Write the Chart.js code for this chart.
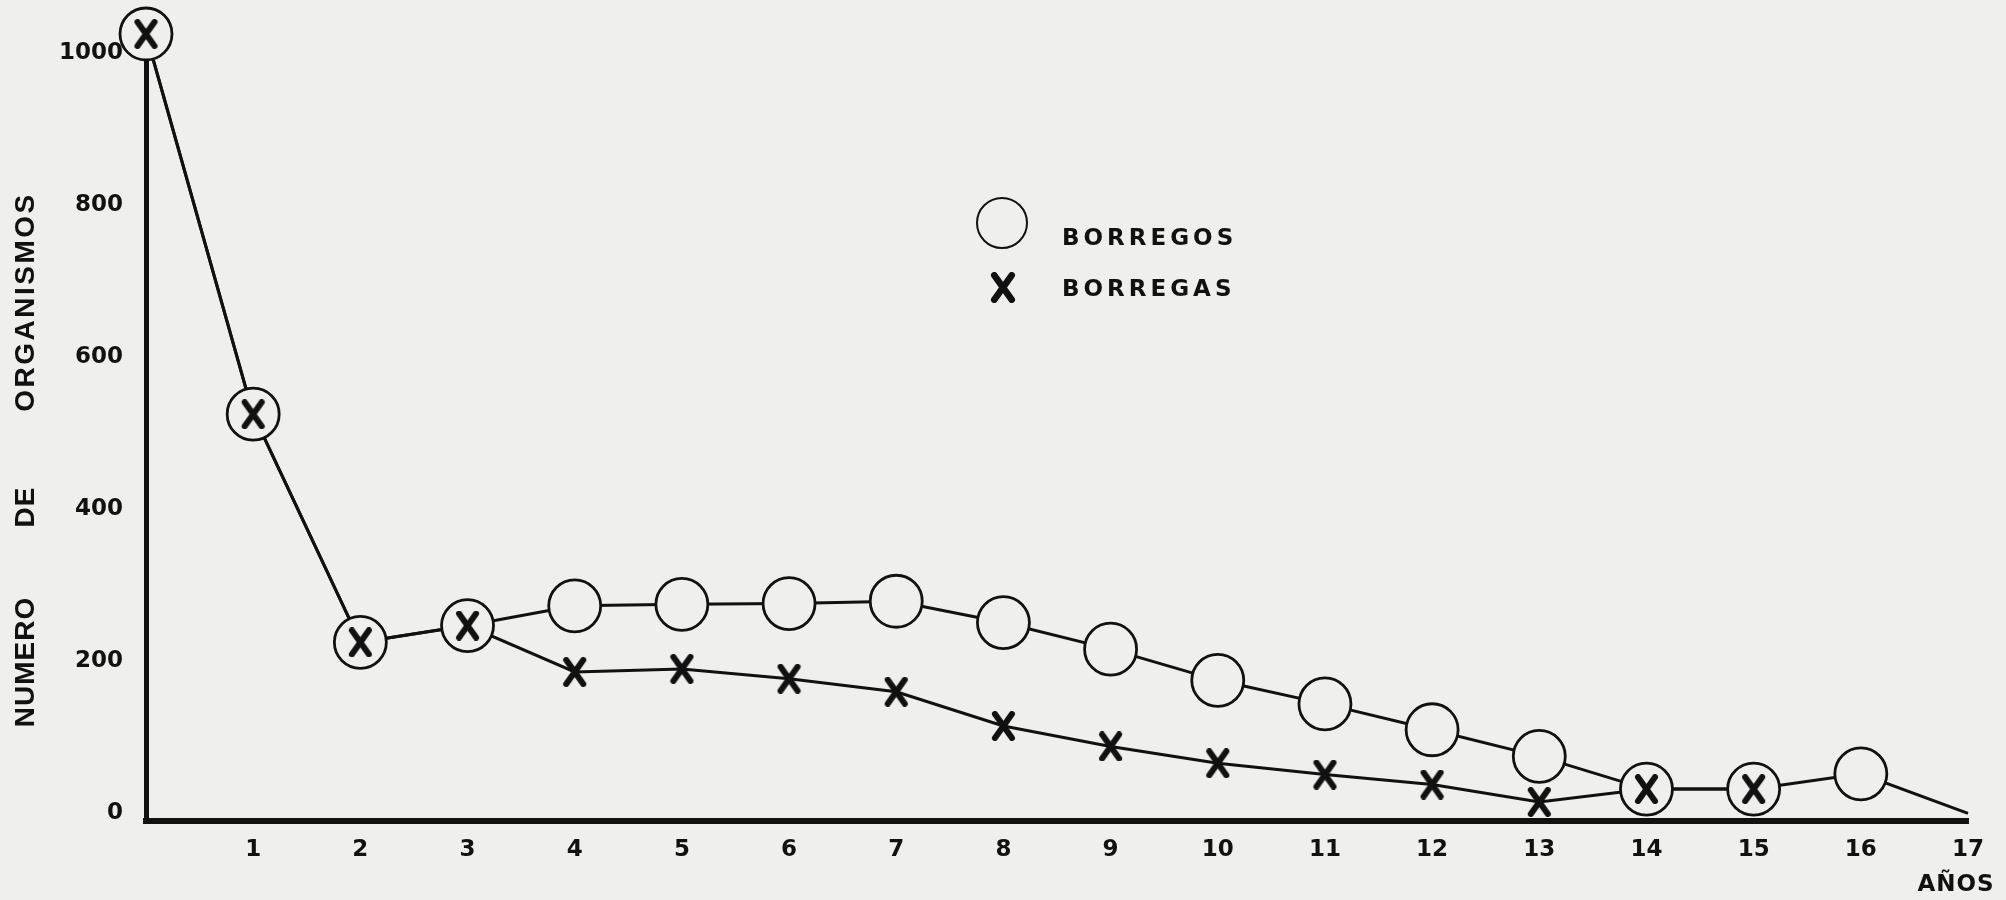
<!DOCTYPE html>
<html>
<head>
<meta charset="utf-8">
<script src="https://cdn.jsdelivr.net/npm/chart.js@4.4.1/dist/chart.umd.min.js"></script>
<style>
  html, body { margin: 0; padding: 0; background: #efefed; }
  #wrap { position: relative; width: 2006px; height: 900px; overflow: hidden; }
  #c { position: absolute; left: 0; top: 0; }
  .lbl { position: absolute; font-family: "DejaVu Sans", sans-serif; font-weight: bold; color: #111; white-space: nowrap; line-height: 1; }
  .ytitle { font-family: "Liberation Sans", Arial, sans-serif; font-size: 28px; transform: translate(-50%, -50%) rotate(-90deg); }
  .legtxt { font-size: 23px; letter-spacing: 4px; transform: translateY(-50%); }
  .legcircle { position: absolute; width: 52px; height: 52px; box-sizing: border-box; border: 2.5px solid #111; border-radius: 50%; }
</style>
</head>
<body>
<div id="wrap">
  <canvas id="c" width="2006" height="900"></canvas>

  <!-- y axis title -->
  <div class="lbl ytitle" style="left:25px; top:662px; letter-spacing:1px">NUMERO</div>
  <div class="lbl ytitle" style="left:25px; top:507px; letter-spacing:1px">DE</div>
  <div class="lbl ytitle" style="left:25px; top:302px; letter-spacing:2.5px">ORGANISMOS</div>

  <!-- x axis title -->
  <div class="lbl" style="left:1956px; top:883px; font-size:23px; letter-spacing:1px; transform:translate(-50%,-50%)">AÑOS</div>

  <!-- legend -->
  <div class="legcircle" style="left:976px; top:197px"></div>
  <div class="lbl legtxt" style="left:1062px; top:237px">BORREGOS</div>
  <div id="legX" style="position:absolute; left:990px; top:272px"></div>
  <div class="lbl legtxt" style="left:1062px; top:288px">BORREGAS</div>
</div>

<script>
// ── DATA ──────────────────────────────────────────────────────────────────────

const years     = [0, 1, 2, 3, 4, 5, 6, 7, 8, 9, 10, 11, 12, 13, 14, 15, 16, 17];
const borregos  = [1025, 525, 225, 247, 273, 275, 276, 279, 251, 216, 175, 144, 110, 75, 32, 32, 52, 0];
const borregas  = [1025, 525, 225, 247, 186, 190, 177, 160, 115, 88, 66, 51, 38, 15, 32, 32, null, null];
const xTicks    = [1, 2, 3, 4, 5, 6, 7, 8, 9, 10, 11, 12, 13, 14, 15, 16, 17];
const yTicks    = [0, 200, 400, 600, 800, 1000];

const INK = '#111';
const PAPER = '#efefed';

// ── HELPERS ───────────────────────────────────────────────────────────────────

const pts = arr => years.map((x, i) => ({ x, y: arr[i] })).filter(p => p.y !== null);

// X marker, a bit taller than wide
function makeCross(w, h, lw) {
  const c = document.createElement('canvas');
  c.width = w; c.height = h;
  const g = c.getContext('2d');
  g.strokeStyle = INK;
  g.lineWidth = lw;
  g.lineCap = 'round';
  g.beginPath();
  g.moveTo(lw / 2 + 1, lw / 2);     g.lineTo(w - lw / 2 - 1, h - lw / 2);
  g.moveTo(w - lw / 2 - 1, lw / 2); g.lineTo(lw / 2 + 1, h - lw / 2);
  g.stroke();
  return c;
}

const crossMark = makeCross(25, 30, 6);
document.getElementById('legX').appendChild(makeCross(26, 31, 6.5));

const tickFont = { family: 'DejaVu Sans', size: 23, weight: 'bold' };
const lastIdx = years.length - 1;

// ── CHART ─────────────────────────────────────────────────────────────────────

new Chart(document.getElementById('c').getContext('2d'), {
  type: 'line',
  data: {
    datasets: [
      { // borregas line, drawn underneath
        label: 'BORREGAS', data: pts(borregas), order: 3, clip: false,
        borderColor: INK, borderWidth: 3, pointRadius: 0, tension: 0,
      },
      { // borregos line + open circles (none at the end of the line)
        label: 'BORREGOS', data: pts(borregos), order: 2, clip: false,
        borderColor: INK, borderWidth: 3, tension: 0,
        pointStyle: 'circle', pointBorderWidth: 2.8,
        pointRadius: ctx => ctx.dataIndex === lastIdx ? 0 : 26,
        pointBackgroundColor: PAPER, pointBorderColor: INK,
      },
      { // borregas X marks, on top
        label: 'BORREGAS', data: pts(borregas), order: 1, clip: false,
        showLine: false, pointStyle: crossMark, pointRadius: 30,
      },
    ],
  },
  options: {
    responsive: false,
    animation: false,
    devicePixelRatio: 1,
    layout: { padding: { left: 0, right: 38, top: 53, bottom: 0 } },
    plugins: { legend: { display: false }, tooltip: { enabled: false } },
    scales: {
      x: {
        type: 'linear', min: 0, max: 17,
        afterBuildTicks: s => { s.ticks = xTicks.map(v => ({ value: v })); },
        afterFit: s => { s.height = 79; },
        grid: { display: false, drawTicks: false },
        border: { display: true, color: INK, width: 6 },
        ticks: { color: INK, font: tickFont, padding: 15, maxRotation: 0, autoSkip: false, callback: v => String(v) },
      },
      y: {
        min: -10, max: 1000,
        afterBuildTicks: s => { s.ticks = yTicks.map(v => ({ value: v })); },
        afterFit: s => { s.width = 146; },
        grid: { display: false, drawTicks: false },
        border: { display: true, color: INK, width: 5 },
        ticks: { color: INK, font: tickFont, padding: 23, autoSkip: false, callback: v => String(v) },
      },
    },
  },
});
</script>
</body>
</html>
